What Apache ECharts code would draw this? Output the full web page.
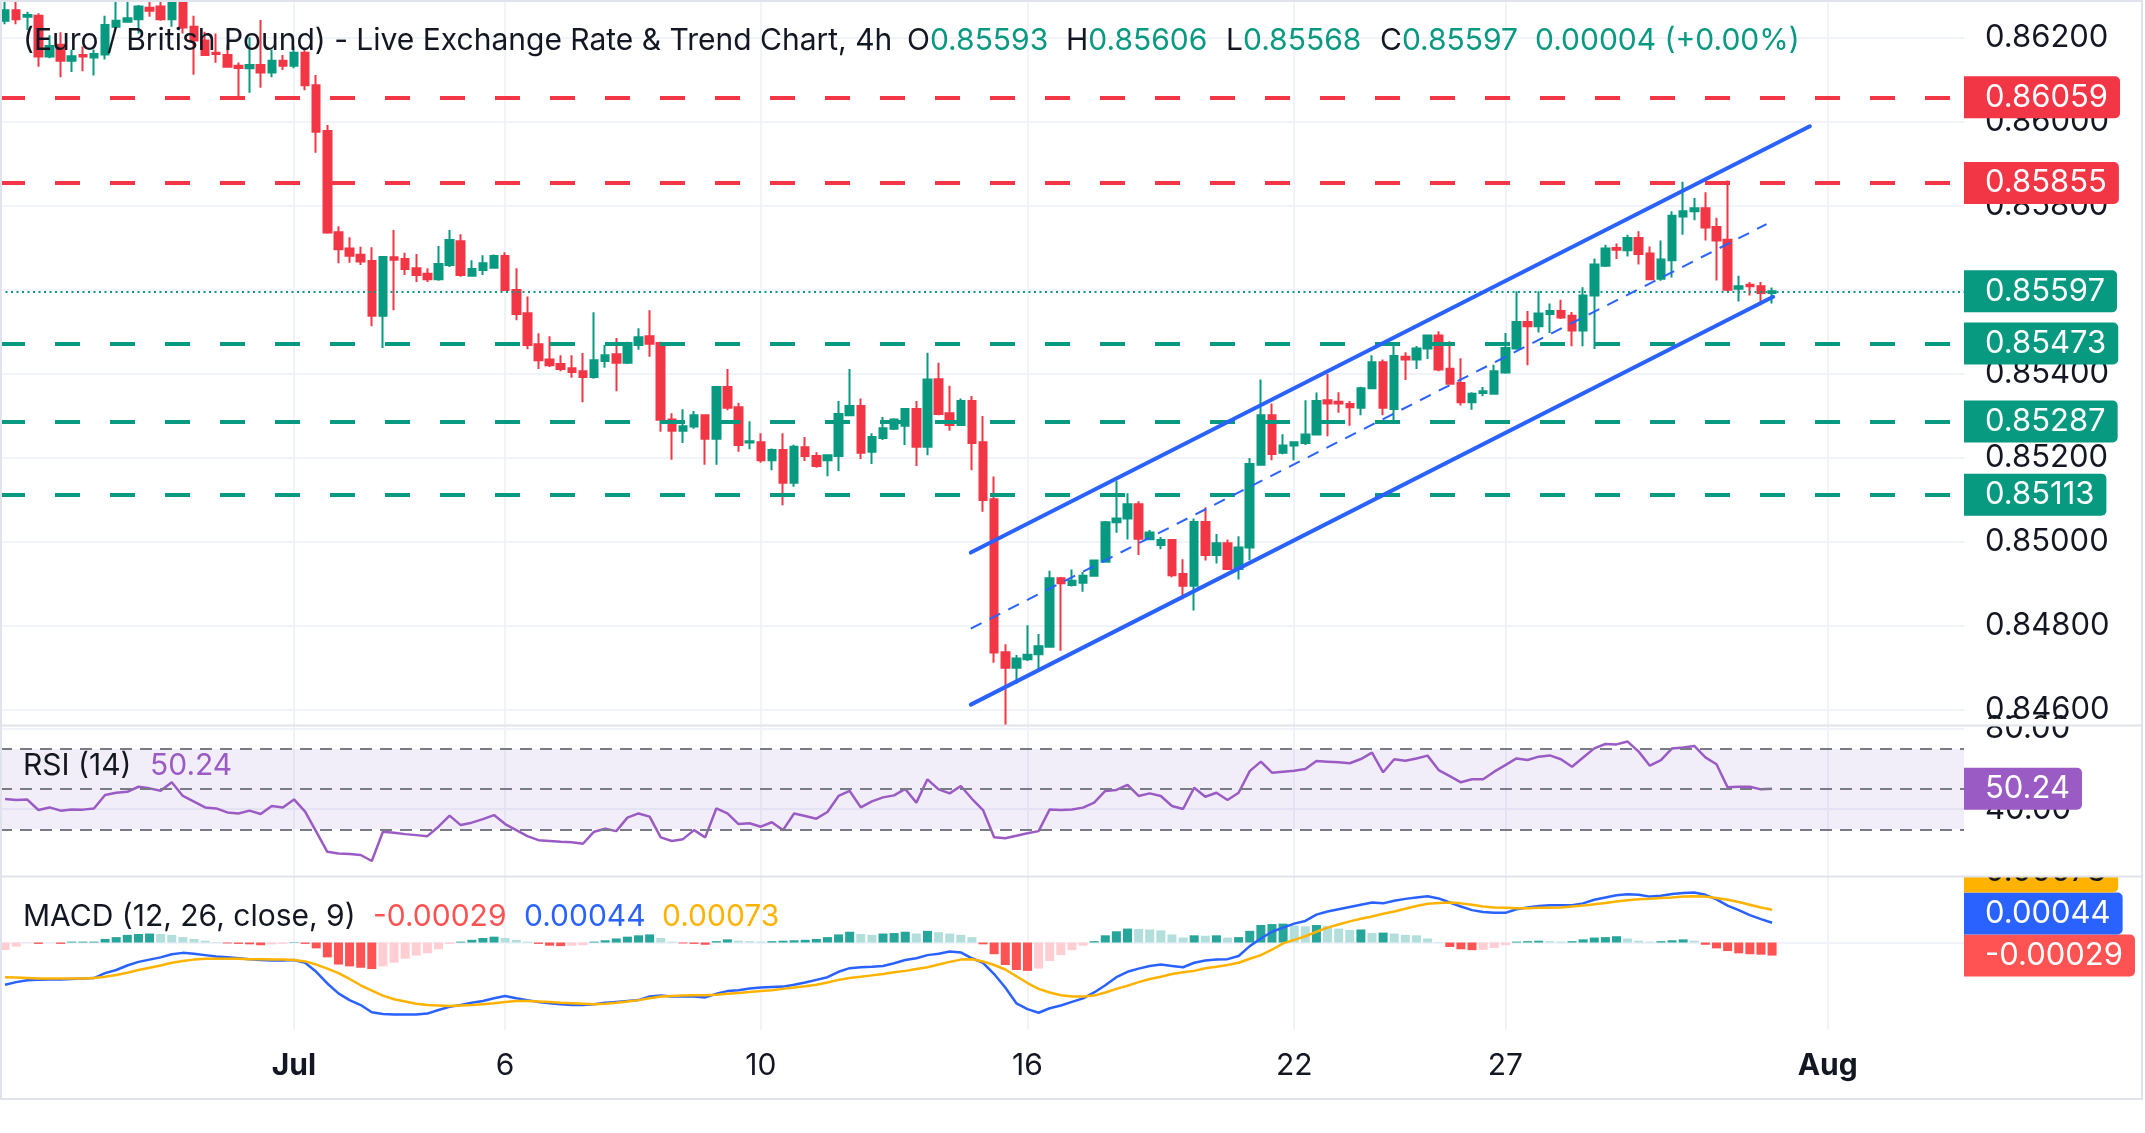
<!DOCTYPE html>
<html><head><meta charset="utf-8">
<script src="https://cdn.jsdelivr.net/npm/echarts@6/dist/echarts.min.js"></script>
<style>html,body{margin:0;padding:0;background:#fff}#c{width:2145px;height:1133px}</style>
</head><body><div id="c"></div>
<script>
// ---------------- DATA ----------------
const opens = [
0.86241,0.86266,0.86251,0.86253,0.86156,0.86184,0.86146,0.86160,0.86154,0.86161,
0.86227,0.86239,0.86245,0.86272,0.86275,0.86245,0.86288,0.86227,0.86194,0.86165,
0.86160,0.86134,0.86128,0.86136,0.86118,0.86146,0.86134,0.86165,0.86088,0.85979,
0.85738,0.85699,0.85684,0.85669,0.85539,0.85678,0.85674,0.85652,0.85639,0.85626,
0.85660,0.85716,0.85634,0.85648,0.85653,0.85681,0.85600,0.85545,0.85471,0.85435,
0.85424,0.85414,0.85407,0.85393,0.85431,0.85447,0.85427,0.85469,0.85490,0.85474,
0.85292,0.85265,0.85275,0.85302,0.85246,0.85369,0.85321,0.85237,0.85238,0.85195,
0.85219,0.85141,0.85226,0.85205,0.85195,0.85205,0.85302,0.85324,0.85215,0.85248,
0.85270,0.85277,0.85317,0.85227,0.85388,0.85307,0.85279,0.85336,0.85238,0.85102,
0.84738,0.84701,0.84721,0.84733,0.84751,0.84914,0.84898,0.84903,0.84920,0.84953,
0.85047,0.85056,0.85090,0.85007,0.84993,0.85005,0.84924,0.84896,0.85048,0.84969,
0.84997,0.84936,0.84987,0.85184,0.85302,0.85213,0.85230,0.85236,0.85256,0.85338,
0.85334,0.85329,0.85320,0.85366,0.85428,0.85317,0.85441,0.85435,0.85461,0.85492,
0.85413,0.85379,0.85333,0.85355,0.85353,0.85404,0.85461,0.85524,0.85514,0.85543,
0.85550,0.85539,0.85504,0.85587,0.85658,0.85700,0.85695,0.85724,0.85687,0.85627,
0.85671,0.85775,0.85788,0.85795,0.85750,0.85720,0.85603,0.85613,0.85609,0.85593];
const highs = [
0.86287,0.86287,0.86263,0.86259,0.86207,0.86214,0.86172,0.86180,0.86173,0.86253,
0.86287,0.86287,0.86279,0.86287,0.86287,0.86300,0.86300,0.86253,0.86215,0.86211,
0.86184,0.86142,0.86202,0.86243,0.86172,0.86160,0.86180,0.86176,0.86112,0.85993,
0.85752,0.85726,0.85703,0.85702,0.85681,0.85743,0.85689,0.85686,0.85652,0.85705,
0.85743,0.85733,0.85671,0.85683,0.85685,0.85690,0.85652,0.85585,0.85497,0.85490,
0.85445,0.85445,0.85450,0.85547,0.85469,0.85486,0.85477,0.85509,0.85552,0.85477,
0.85307,0.85316,0.85312,0.85304,0.85371,0.85412,0.85332,0.85288,0.85259,0.85223,
0.85259,0.85232,0.85250,0.85214,0.85207,0.85336,0.85412,0.85342,0.85259,0.85298,
0.85295,0.85317,0.85336,0.85451,0.85427,0.85372,0.85342,0.85348,0.85300,0.85156,
0.84757,0.84731,0.84802,0.84781,0.84932,0.84917,0.84935,0.84929,0.84957,0.85050,
0.85146,0.85116,0.85097,0.85029,0.85012,0.85005,0.84959,0.85056,0.85083,0.85019,
0.85006,0.85014,0.85200,0.85387,0.85330,0.85257,0.85240,0.85338,0.85356,0.85400,
0.85357,0.85336,0.85370,0.85445,0.85435,0.85467,0.85452,0.85467,0.85492,0.85502,
0.85478,0.85438,0.85357,0.85369,0.85422,0.85498,0.85597,0.85550,0.85597,0.85568,
0.85577,0.85548,0.85607,0.85675,0.85708,0.85711,0.85732,0.85740,0.85704,0.85718,
0.85788,0.85858,0.85819,0.85833,0.85772,0.85861,0.85634,0.85619,0.85619,0.85606];
const lows = [
0.86233,0.86233,0.86219,0.86132,0.86152,0.86107,0.86119,0.86121,0.86111,0.86149,
0.86223,0.86237,0.86211,0.86251,0.86241,0.86227,0.86211,0.86113,0.86158,0.86141,
0.86130,0.86059,0.86070,0.86082,0.86107,0.86124,0.86128,0.86076,0.85927,0.85734,
0.85664,0.85665,0.85660,0.85514,0.85462,0.85552,0.85636,0.85619,0.85619,0.85622,
0.85655,0.85632,0.85633,0.85636,0.85651,0.85598,0.85528,0.85459,0.85412,0.85417,
0.85407,0.85391,0.85333,0.85389,0.85415,0.85359,0.85424,0.85458,0.85441,0.85263,
0.85196,0.85236,0.85270,0.85184,0.85184,0.85314,0.85215,0.85221,0.85189,0.85171,
0.85088,0.85132,0.85193,0.85177,0.85157,0.85169,0.85300,0.85198,0.85186,0.85243,
0.85267,0.85231,0.85181,0.85207,0.85302,0.85265,0.85278,0.85171,0.85072,0.84713,
0.84564,0.84663,0.84717,0.84695,0.84751,0.84741,0.84894,0.84882,0.84918,0.84952,
0.85022,0.85006,0.84969,0.85005,0.84983,0.84916,0.84864,0.84837,0.84956,0.84949,
0.84936,0.84911,0.84957,0.85184,0.85195,0.85209,0.85195,0.85231,0.85255,0.85252,
0.85308,0.85277,0.85302,0.85366,0.85302,0.85290,0.85386,0.85412,0.85436,0.85407,
0.85377,0.85325,0.85315,0.85347,0.85351,0.85401,0.85458,0.85421,0.85499,0.85498,
0.85531,0.85466,0.85466,0.85460,0.85655,0.85674,0.85680,0.85661,0.85625,0.85622,
0.85630,0.85732,0.85766,0.85718,0.85623,0.85597,0.85573,0.85587,0.85564,0.85568];
const closes = [
0.86266,0.86245,0.86255,0.86156,0.86181,0.86146,0.86157,0.86156,0.86162,0.86231,
0.86241,0.86247,0.86275,0.86265,0.86245,0.86288,0.86225,0.86194,0.86160,0.86162,
0.86132,0.86129,0.86136,0.86118,0.86146,0.86134,0.86165,0.86088,0.85977,0.85737,
0.85697,0.85682,0.85668,0.85539,0.85679,0.85672,0.85650,0.85636,0.85626,0.85662,
0.85719,0.85636,0.85650,0.85664,0.85681,0.85600,0.85543,0.85469,0.85433,0.85421,
0.85412,0.85405,0.85393,0.85433,0.85445,0.85427,0.85474,0.85488,0.85472,0.85291,
0.85265,0.85276,0.85302,0.85246,0.85369,0.85320,0.85231,0.85240,0.85195,0.85219,
0.85141,0.85227,0.85205,0.85181,0.85207,0.85305,0.85324,0.85213,0.85250,0.85271,
0.85292,0.85317,0.85227,0.85387,0.85305,0.85279,0.85336,0.85236,0.85100,0.84737,
0.84701,0.84723,0.84732,0.84752,0.84914,0.84902,0.84908,0.84920,0.84956,0.85047,
0.85056,0.85090,0.85008,0.85023,0.85005,0.84921,0.84896,0.85048,0.84969,0.84997,
0.84936,0.84987,0.85186,0.85302,0.85210,0.85230,0.85238,0.85256,0.85336,0.85330,
0.85330,0.85321,0.85366,0.85428,0.85320,0.85443,0.85435,0.85461,0.85492,0.85411,
0.85377,0.85333,0.85353,0.85359,0.85407,0.85462,0.85524,0.85514,0.85544,0.85550,
0.85535,0.85504,0.85587,0.85661,0.85699,0.85696,0.85724,0.85686,0.85626,0.85673,
0.85777,0.85788,0.85795,0.85749,0.85718,0.85601,0.85609,0.85609,0.85593,0.85597];
const rsi = [
45.1,44.6,44.8,39.6,40.9,39.3,39.9,39.8,40.4,47.1,
48.2,48.7,51.2,50.4,49.2,53.4,46.6,43.8,40.9,40.4,
38.4,37.9,39.3,37.6,41.6,40.9,44.9,38.8,28.8,18.8,
18.0,17.7,17.2,14.2,28.8,28.3,27.6,27.1,26.6,31.3,
36.8,32.1,33.3,35.1,37.1,32.6,29.6,26.6,24.6,24.2,
23.8,23.5,22.8,28.8,30.3,29.1,35.8,37.9,36.3,26.0,
24.2,25.1,29.6,26.0,40.4,37.9,32.6,33.0,31.3,33.5,
29.6,37.9,36.6,35.3,38.6,46.6,49.1,40.9,43.9,45.9,
46.9,50.1,43.3,54.9,49.9,47.9,51.6,45.2,39.6,26.0,
25.5,26.8,28.0,29.1,39.9,39.6,39.9,40.8,43.3,49.1,
49.6,52.1,46.6,47.9,46.6,41.6,40.1,50.7,46.2,48.2,
44.6,48.2,59.0,63.7,58.2,58.7,59.2,60.0,64.0,63.7,
63.4,62.9,65.0,68.2,58.4,64.9,64.2,65.3,66.7,59.5,
56.5,53.4,54.9,54.9,58.7,62.0,65.3,64.5,66.2,66.8,
64.9,61.2,65.8,70.3,72.5,72.3,73.7,68.7,61.7,64.5,
70.3,70.8,71.5,65.8,62.4,50.9,51.2,51.2,49.9,50.24];
const macdLine = [
-0.00094,-0.00088,-0.00084,-0.00083,-0.00082,-0.00082,-0.00081,-0.0008,-0.00079,-0.00068,
-0.00061,-0.00051,-0.00043,-0.00038,-0.00033,-0.00026,-0.00023,-0.00025,-0.00028,-0.00031,
-0.00033,-0.00035,-0.00037,-0.00039,-0.0004,-0.0004,-0.00039,-0.00045,-0.00065,-0.00091,
-0.00113,-0.00128,-0.00139,-0.00155,-0.00159,-0.0016,-0.0016,-0.0016,-0.00158,-0.0015,
-0.00143,-0.00139,-0.00134,-0.0013,-0.00124,-0.00119,-0.00124,-0.00128,-0.00132,-0.00135,
-0.00137,-0.00139,-0.00139,-0.00137,-0.00134,-0.00132,-0.0013,-0.00128,-0.0012,-0.00118,
-0.0012,-0.0012,-0.0012,-0.00122,-0.00114,-0.00108,-0.00106,-0.00102,-0.001,-0.00099,
-0.00098,-0.00094,-0.00089,-0.00083,-0.00077,-0.00065,-0.00057,-0.00055,-0.00054,-0.00052,
-0.00046,-0.00039,-0.00035,-0.00028,-0.00025,-0.0002,-0.00022,-0.00035,-0.00045,-0.0007,
-0.001,-0.00135,-0.00148,-0.00156,-0.00146,-0.0014,-0.00132,-0.00124,-0.00111,-0.00095,
-0.00077,-0.00065,-0.00058,-0.00052,-0.00049,-0.00052,-0.00055,-0.00045,-0.0004,-0.00038,
-0.00037,-0.0003,-0.00008,0.00009,0.00024,0.00033,0.00042,0.00048,0.00062,0.00069,
0.00074,0.00079,0.00084,0.00089,0.00087,0.00093,0.00097,0.001,0.00103,0.00098,
0.00089,0.0008,0.00072,0.00068,0.00066,0.00066,0.00074,0.00078,0.00081,0.00083,
0.00083,0.00083,0.00087,0.00095,0.001,0.00105,0.00107,0.00106,0.00102,0.00104,
0.00108,0.0011,0.00111,0.00106,0.00096,0.00082,0.00072,0.00061,0.00052,0.00044];
const signalLine = [
-0.00077,-0.00078,-0.00079,-0.0008,-0.0008,-0.0008,-0.0008,-0.0008,-0.00079,-0.00076,
-0.00072,-0.00067,-0.00061,-0.00056,-0.00051,-0.00045,-0.00041,-0.00038,-0.00036,-0.00036,
-0.00036,-0.00036,-0.00037,-0.00037,-0.00038,-0.00038,-0.00039,-0.00042,-0.00049,-0.00058,
-0.00068,-0.00081,-0.00095,-0.00107,-0.00118,-0.00126,-0.00131,-0.00136,-0.00139,-0.0014,
-0.00141,-0.0014,-0.00139,-0.00137,-0.00135,-0.00132,-0.0013,-0.0013,-0.00131,-0.00132,
-0.00134,-0.00135,-0.00136,-0.00137,-0.00136,-0.00134,-0.00131,-0.00128,-0.00124,-0.0012,
-0.00119,-0.00118,-0.00117,-0.00117,-0.00116,-0.00114,-0.00112,-0.0011,-0.00108,-0.00106,
-0.00103,-0.001,-0.00097,-0.00094,-0.00089,-0.00083,-0.00079,-0.00076,-0.00073,-0.0007,
-0.00066,-0.00063,-0.00059,-0.00055,-0.00049,-0.00043,-0.00038,-0.00037,-0.00042,-0.0005,
-0.0006,-0.00075,-0.0009,-0.00103,-0.00111,-0.00117,-0.0012,-0.0012,-0.00118,-0.00111,
-0.00103,-0.00096,-0.00088,-0.00081,-0.00076,-0.0007,-0.00066,-0.00063,-0.00057,-0.00054,
-0.0005,-0.00045,-0.00036,-0.00028,-0.00016,-0.00002,0.00006,0.00014,0.00024,0.00033,
0.0004,0.00047,0.00053,0.00058,0.00064,0.00069,0.00075,0.00081,0.00086,0.00088,
0.00089,0.00087,0.00084,0.0008,0.00078,0.00077,0.00076,0.00076,0.00077,0.00077,
0.00078,0.0008,0.00082,0.00085,0.00088,0.00091,0.00094,0.00096,0.00097,0.00099,
0.001,0.00102,0.00103,0.00102,0.00099,0.00095,0.0009,0.00084,0.00078,0.00073];
const histogram = [
-0.00017,-0.00009,-0.00001,-0.00003,-0.000005,-0.00003,0.00002,0.00002,0.00002,0.00008,
0.00012,0.00017,0.00019,0.0002,0.00019,0.00017,0.00012,0.00008,0.00004,0.00001,
-0.00002,-0.00003,-0.00004,-0.00006,-0.00004,-0.00003,0.00001,-0.00003,-0.00013,-0.00033,
-0.00049,-0.00053,-0.00056,-0.00059,-0.00053,-0.00045,-0.00036,-0.00029,-0.00024,-0.00015,
-0.00003,0.00002,0.00006,0.0001,0.00013,0.0001,0.00006,0.00002,-0.00003,-0.00007,
-0.00008,-0.00007,-0.00006,0.00002,0.00005,0.00009,0.00013,0.00016,0.00018,0.0001,
0.00002,-0.00002,-0.00003,-0.00005,0.00003,0.00007,0.00004,0.00003,0.00002,0.00003,
0.00004,0.00005,0.00006,0.00008,0.00012,0.00018,0.00024,0.00019,0.00017,0.0002,
0.00021,0.00024,0.0002,0.00026,0.00023,0.0002,0.00017,0.00012,-0.00004,-0.00026,
-0.0005,-0.00061,-0.00063,-0.00058,-0.00041,-0.00028,-0.00017,-0.00007,0.00003,0.00016,
0.00025,0.00031,0.0003,0.00029,0.00027,0.00018,0.00011,0.00016,0.00015,0.00016,
0.00011,0.00012,0.00026,0.00039,0.00041,0.00042,0.00038,0.00036,0.00039,0.00037,
0.00031,0.00028,0.00029,0.00021,0.00022,0.0002,0.00017,0.00016,0.00009,0.00001,
-0.0001,-0.00015,-0.00017,-0.00016,-0.00012,-0.00006,0.00002,0.00003,0.00004,0.00003,
0.00002,0.00003,0.00007,0.00011,0.00012,0.00014,0.00009,0.00004,0.00002,0.00003,
0.00005,0.00007,0.00004,-0.00005,-0.00013,-0.00019,-0.00024,-0.00026,-0.00027,-0.00029];
const xTickIndex = [26, 45, 68, 92, 116, 135, 164];
const xTickText = ['Jul', '6', '10', '16', '22', '27', 'Aug'];
const priceTicks = [0.846, 0.848, 0.850, 0.852, 0.854, 0.856, 0.858, 0.860, 0.862];
const rsiTicks = [40, 80];
const rsiBands = [30, 50, 70];
const macdTicks = [0];
const resistanceLevels = [0.86059, 0.85855];
const supportLevels = [0.85473, 0.85287, 0.85113];
const channelUpper = [[86.9, 0.84975], [162.4, 0.85990]];
const channelMiddle = [[86.9, 0.84794], [158.5, 0.85757]];
const channelLower = [[86.9, 0.84613], [159.1, 0.85584]];

// ---------------- CHART ----------------
const N = closes.length;
const FONT = 'Inter, "Noto Sans", sans-serif';
const UP = '#089981', DOWN = '#f23645', TXT = '#131722';
const RSI_C = '#9b5bc4', MACD_C = '#2962ff', SIG_C = '#ffb300';
const GRID_C = '#f0f3fa';
const PLOT_R = 1964;
const AX_FS = 31, LEG_FS = 30;
const X_MIN = -0.4553, X_MAX = 176.27;
const panes = [{top: 0, height: 725}, {top: 726, height: 150}, {top: 877, height: 153}];
const yRanges = [[0.845645, 0.862907], [6.74, 81.46], [-0.001944, 0.001456]];

function xAxisCfg(idx, showLabels) {
  return {
    type: 'value', gridIndex: idx, min: X_MIN, max: X_MAX,
    axisLine: {show: false},
    axisTick: {show: false, customValues: xTickIndex},
    axisLabel: {
      show: showLabels, customValues: xTickIndex,
      formatter: v => {
        const t = xTickText[xTickIndex.indexOf(Math.round(v))] || '';
        return (t === 'Jul' || t === 'Aug') ? '{b|' + t + '}' : t;
      },
      color: TXT, fontSize: 30, fontFamily: FONT, margin: 36, verticalAlign: 'middle',
      rich: {b: {fontWeight: 'bold', fontSize: 30, fontFamily: FONT, color: TXT}}
    },
    splitLine: {show: true, lineStyle: {color: GRID_C, width: 2}}
  };
}
function yAxisCfg(idx, ticks, fmt, showLabels) {
  return {
    type: 'value', gridIndex: idx, position: 'right',
    min: yRanges[idx][0], max: yRanges[idx][1],
    axisLine: {show: false},
    axisTick: {show: false, customValues: ticks},
    axisLabel: {show: showLabels, customValues: ticks, formatter: fmt, color: TXT,
      fontSize: AX_FS, fontFamily: FONT, margin: 21},
    splitLine: {show: true, lineStyle: {color: GRID_C, width: 2}}
  };
}
function histColor(i) {
  const v = histogram[i], p = i > 0 ? histogram[i - 1] : v;
  if (v >= 0) return v >= p ? '#26a69a' : '#b2dfdb';
  return v < p ? '#ff5252' : '#ffcdd2';
}
const chart = echarts.init(document.getElementById('c'));
const option = {
  animation: false,
  backgroundColor: '#ffffff',
  grid: panes.map(p => ({left: 0, top: p.top, width: PLOT_R, height: p.height})),
  xAxis: [xAxisCfg(0, false), xAxisCfg(1, false), xAxisCfg(2, true)],
  yAxis: [
    yAxisCfg(0, priceTicks, v => v.toFixed(5), true),
    yAxisCfg(1, rsiTicks, v => v.toFixed(2), true),
    yAxisCfg(2, macdTicks, v => v.toFixed(5), false)
  ],
  series: [
    {
      type: 'candlestick', xAxisIndex: 0, yAxisIndex: 0,
      data: opens.map((o, i) => [i, o, closes[i], lows[i], highs[i]]),
      encode: {x: 0, y: [1, 2, 3, 4]},
      barWidth: 8,
      itemStyle: {color: UP, color0: DOWN, borderColor: UP, borderColor0: DOWN, borderWidth: 2},
      silent: true, z: 2,
      markLine: {
        silent: true, symbol: ['none', 'none'], label: {show: false}, z: 5, precision: 6,
        data: [
          ...resistanceLevels.map(v => ({yAxis: v, lineStyle: {color: DOWN, width: 4, type: [25, 30]}})),
          ...supportLevels.map(v => ({yAxis: v, lineStyle: {color: UP, width: 4, type: [25, 30]}})),
          {yAxis: closes[N - 1], lineStyle: {color: UP, width: 2, type: [2, 3.5]}}
        ]
      }
    },
    {type: 'line', xAxisIndex: 0, yAxisIndex: 0, data: channelUpper, symbol: 'none', silent: true, z: 6,
      lineStyle: {color: '#2962ff', width: 4, cap: 'round'}},
    {type: 'line', xAxisIndex: 0, yAxisIndex: 0, data: channelLower, symbol: 'none', silent: true, z: 6,
      lineStyle: {color: '#2962ff', width: 4, cap: 'round'}},
    {type: 'line', xAxisIndex: 0, yAxisIndex: 0, data: channelMiddle, symbol: 'none', silent: true, z: 6,
      lineStyle: {color: '#2962ff', width: 2, type: [12, 9]}},
    {
      type: 'line', xAxisIndex: 1, yAxisIndex: 1, data: rsi.map((v, i) => [i, v]),
      symbol: 'none', silent: true, z: 4, lineStyle: {color: RSI_C, width: 2.5},
      markArea: {silent: true, itemStyle: {color: 'rgba(126,87,194,0.1)'},
        data: [[{yAxis: rsiBands[0]}, {yAxis: rsiBands[2]}]]},
      markLine: {silent: true, symbol: ['none', 'none'], label: {show: false}, precision: 4,
        lineStyle: {color: '#787b86', width: 2, type: [12, 8]},
        data: rsiBands.map(v => ({yAxis: v}))}
    },
    {
      type: 'bar', xAxisIndex: 2, yAxisIndex: 2, barWidth: 9, silent: true, z: 2,
      data: histogram.map((v, i) => ({value: [i, v], itemStyle: {color: histColor(i)}}))
    },
    {type: 'line', xAxisIndex: 2, yAxisIndex: 2, data: macdLine.map((v, i) => [i, v]),
      symbol: 'none', silent: true, z: 3, lineStyle: {color: MACD_C, width: 2.5}},
    {type: 'line', xAxisIndex: 2, yAxisIndex: 2, data: signalLine.map((v, i) => [i, v]),
      symbol: 'none', silent: true, z: 4, lineStyle: {color: SIG_C, width: 2.5}}
  ]
};
chart.setOption(option);

// ---------- value tags, legends, pane separators ----------
const BOX_H = 42;
const py = (axis, v) => chart.convertToPixel({yAxisIndex: axis}, v);
function tag(y, text, bg, fg) {
  return {type: 'text', x: PLOT_R, y: y, z: 200, silent: true,
    style: {text: text, fill: fg, font: AX_FS + 'px ' + FONT, backgroundColor: bg,
      padding: [7, 12, 6, 21], borderRadius: [0, 5, 5, 0], lineHeight: 29,
      verticalAlign: 'middle', align: 'left'}};
}
function legend(x, y, str, rich) {
  return {type: 'text', x: x, y: y, z: 210, silent: true,
    style: {text: str, rich: rich, font: LEG_FS + 'px ' + FONT, fill: TXT, verticalAlign: 'middle', align: 'left'}};
}
const f5 = v => v.toFixed(5);
const R = (c) => ({fill: c, font: LEG_FS + 'px ' + FONT});
const rich = {k: R(TXT), g: R(UP), r: R('#ff5252'), b: R(MACD_C), o: R(SIG_C), p: R(RSI_C)};
const last = N - 1;
const chg = closes[last] - closes[last - 1];
const chgPct = chg / closes[last - 1] * 100;
const valKey = closes[last] >= opens[last] ? 'g' : 'r';

const els = [];
resistanceLevels.forEach(v => els.push(tag(py(0, v), f5(v), DOWN, '#ffffff')));
supportLevels.forEach(v => els.push(tag(py(0, v), f5(v), UP, '#ffffff')));
els.push(tag(py(0, closes[last]), f5(closes[last]), UP, '#ffffff'));
els.push(tag(py(1, rsi[last]), rsi[last].toFixed(2), RSI_C, '#ffffff'));
const mTags = [
  {v: signalLine[last], bg: SIG_C, fg: TXT},
  {v: macdLine[last], bg: MACD_C, fg: '#ffffff'},
  {v: histogram[last], bg: '#ff5252', fg: '#ffffff'}
].map(o => Object.assign(o, {y: py(2, o.v)})).sort((a, b) => b.y - a.y);
let prevY = Infinity;
mTags.forEach(o => { o.y = Math.min(o.y, prevY - BOX_H); prevY = o.y; els.push(tag(o.y, f5(o.v), o.bg, o.fg)); });

// clip strips of the axis column at pane tops
els.push({type: 'rect', z: 205, silent: true, shape: {x: PLOT_R, y: 719, width: 181, height: 7}, style: {fill: '#ffffff'}});
els.push({type: 'rect', z: 205, silent: true, shape: {x: PLOT_R, y: 840, width: 181, height: 37}, style: {fill: '#ffffff'}});
// pane separators and outer border
[725.5, 876.5].forEach(y => els.push({type: 'line', z: 220, silent: true,
  shape: {x1: 0, y1: y, x2: 2143, y2: y}, style: {stroke: '#e0e3eb', lineWidth: 2}}));
els.push({type: 'rect', z: 220, silent: true, shape: {x: 1, y: 1, width: 2141, height: 1098},
  style: {fill: 'none', stroke: '#e0e3eb', lineWidth: 2}});

// legends
els.push(legend(23, 41, '{k|(Euro / British Pound) - Live Exchange Rate & Trend Chart, 4h}', rich));
els.push(legend(907, 41, '{k|O}{' + valKey + '|' + f5(opens[last]) + '}', rich));
els.push(legend(1066, 41, '{k|H}{' + valKey + '|' + f5(highs[last]) + '}', rich));
els.push(legend(1226, 41, '{k|L}{' + valKey + '|' + f5(lows[last]) + '}', rich));
els.push(legend(1380, 41, '{k|C}{' + valKey + '|' + f5(closes[last]) + '}', rich));
els.push(legend(1535, 41, '{g|' + f5(chg) + ' (' + (chgPct >= 0 ? '+' : '') + chgPct.toFixed(2) + '%)}', rich));
els.push(legend(23, 766, '{k|RSI (14)}', rich));
els.push(legend(150, 766, '{p|' + rsi[last].toFixed(2) + '}', rich));
els.push(legend(23, 917, '{k|MACD (12, 26, close, 9)}', rich));
els.push(legend(373, 917, '{r|' + f5(histogram[last]) + '}', rich));
els.push(legend(524, 917, '{b|' + f5(macdLine[last]) + '}', rich));
els.push(legend(662, 917, '{o|' + f5(signalLine[last]) + '}', rich));

chart.setOption({graphic: {elements: els}});
</script>
</body></html>
